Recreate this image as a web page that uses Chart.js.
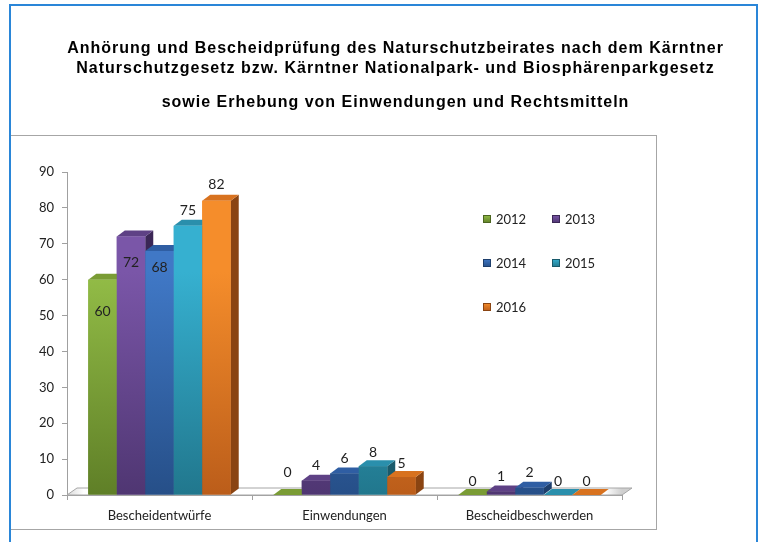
<!DOCTYPE html>
<html><head><meta charset="utf-8">
<script src="https://cdn.jsdelivr.net/npm/chart.js@4.4.1/dist/chart.umd.min.js"></script>
<style>html,body{margin:0;padding:0;background:#fff;}canvas{display:block}</style>
</head><body>
<canvas id="c" width="762" height="542"></canvas>
<script>
// ---- data ----
const categories = ['Bescheidentwürfe', 'Einwendungen', 'Bescheidbeschwerden'];
const years = ['2012', '2013', '2014', '2015', '2016'];
const v2012 = [60, 0, 0];
const v2013 = [72, 4, 1];
const v2014 = [68, 6, 2];
const v2015 = [75, 8, 0];
const v2016 = [82, 5, 0];
const yMin = 0, yMax = 90, yStep = 10;
const titleLines = ['Anhörung und Bescheidprüfung des Naturschutzbeirates nach dem Kärntner',
                    'Naturschutzgesetz bzw. Kärntner Nationalpark- und Biosphärenparkgesetz'];
const subtitleText = 'sowie Erhebung von Einwendungen und Rechtsmitteln';

// ---- styles ----
const palette = [
  {front:['#93bd47','#5f7f27'], side:'#4b6520', top:'#7a9c35'},
  {front:['#7a56a8','#4f3672'], side:'#3b2756', top:'#5e4185'},
  {front:['#4078c6','#264f88'], side:'#1d3e6c', top:'#2f5ea3'},
  {front:['#36b0d0','#21778d'], side:'#195a6b', top:'#2a8fac'},
  {front:['#f58d2b','#bb5d1a'], side:'#8a4412', top:'#d8721f'}
];
const DX = 8, DY = 6;
const FONT = 'Lato, "Open Sans", sans-serif';
const TITLE_FONT = '"Liberation Sans", Arial, sans-serif';

function frontGradient(i){
  return function(ctx){
    const ch = ctx.chart; const a = ch.chartArea;
    if(!a) return palette[i].front[0];
    const g = ch.ctx.createLinearGradient(0, a.top + 100, 0, a.bottom);
    g.addColorStop(0, palette[i].front[0]);
    g.addColorStop(1, palette[i].front[1]);
    return g;
  };
}

const seriesValues = [v2012, v2013, v2014, v2015, v2016];
const datasets = years.map((y, i) => ({
  label: y,
  data: seriesValues[i],
  backgroundColor: frontGradient(i),
  borderWidth: 0,
  categoryPercentage: 0.77,
  barPercentage: 1.0
}));

// letter-spaced title blocks (wraps Chart.js title/subtitle drawing)
const titleSpacingPlugin = {
  id: 'titleSpacing',
  beforeDraw(chart){
    const T = chart.titleBlock && chart.titleBlock.constructor;
    if(!T) return;
    chart.boxes.forEach(b => {
      if(b instanceof T && !b._spaced){
        const orig = b.draw;
        b.draw = function(){
          const c = chart.ctx;
          c.save(); c.letterSpacing = '1px';
          orig.apply(this, arguments);
          c.restore();
        };
        b._spaced = true;
      }
    });
  }
};

const framePlugin = {
  id: 'frame',
  beforeDraw(chart){
    const c = chart.ctx;
    c.save();
    c.fillStyle = '#fff'; c.fillRect(0,0,chart.width,chart.height);
    c.strokeStyle = '#a6a6a6'; c.lineWidth = 1;
    c.strokeRect(10.5, 135.5, 646, 394);
    c.strokeStyle = '#2a86d8'; c.lineWidth = 2;
    c.strokeRect(10, 5, 747, 560);
    c.restore();
  }
};

const floorPlugin = {
  id: 'floor',
  beforeDatasetsDraw(chart){
    const a = chart.chartArea, c = chart.ctx;
    const l = a.left, r = a.right, b = a.bottom;
    c.save();
    const g = c.createLinearGradient(l, 0, r, 0);
    g.addColorStop(0, '#d9d9d9'); g.addColorStop(0.03, '#ffffff');
    g.addColorStop(0.97, '#ffffff'); g.addColorStop(1, '#cfcfcf');
    c.beginPath();
    c.moveTo(l, b); c.lineTo(r, b); c.lineTo(r + 10, b - 7); c.lineTo(l + 10, b - 7); c.closePath();
    c.fillStyle = g; c.fill();
    c.strokeStyle = '#a6a6a6'; c.lineWidth = 1; c.stroke();
    c.restore();
  }
};

const bars3dPlugin = {
  id: 'bars3d',
  afterDatasetsDraw(chart){
    const c = chart.ctx;
    const n = chart.data.labels.length;
    c.save();
    for(let i = 0; i < n; i++){
      chart.data.datasets.forEach((ds, d) => {
        const el = chart.getDatasetMeta(d).data[i];
        const p = el.getProps(['x','y','base','width'], true);
        const xl = p.x - p.width/2, xr = p.x + p.width/2;
        c.beginPath();
        c.moveTo(xr, p.y); c.lineTo(xr + DX, p.y - DY); c.lineTo(xr + DX, p.base - DY); c.lineTo(xr, p.base); c.closePath();
        c.fillStyle = palette[d].side; c.fill();
        c.beginPath();
        c.moveTo(xl, p.y); c.lineTo(xl + DX, p.y - DY); c.lineTo(xr + DX, p.y - DY); c.lineTo(xr, p.y); c.closePath();
        c.fillStyle = palette[d].top; c.fill();
        el.draw(c);
      });
    }
    c.restore();
  }
};

const labelPlugin = {
  id: 'barLabels',
  afterDatasetsDraw(chart, args, opts){
    const c = chart.ctx;
    c.save();
    c.font = '14px ' + FONT; c.fillStyle = '#222';
    c.textAlign = 'center'; c.textBaseline = 'middle';
    chart.data.datasets.forEach((ds, d) => {
      chart.getDatasetMeta(d).data.forEach((el, i) => {
        const s = (opts.shift[i] && opts.shift[i][d] !== undefined) ? opts.shift[i][d] : -15;
        c.fillText(String(ds.data[i]), el.x, el.y + s);
      });
    });
    c.restore();
  }
};

const legendPlugin = {
  id: 'gridLegend',
  afterDraw(chart, args, opts){
    const a = chart.chartArea, c = chart.ctx;
    c.save();
    c.font = '13px ' + FONT; c.fillStyle = '#222';
    c.textBaseline = 'middle'; c.textAlign = 'left';
    chart.data.datasets.forEach((ds, d) => {
      const col = d % 2, row = Math.floor(d / 2);
      const x = a.left + opts.x0 + col * opts.colGap;
      const y = a.top + opts.y0 + row * opts.rowGap;
      const g = c.createLinearGradient(0, y - 4, 0, y + 4);
      g.addColorStop(0, palette[d].front[0]); g.addColorStop(1, palette[d].front[1]);
      c.fillStyle = g; c.fillRect(x, y - 4, 8, 8);
      c.strokeStyle = palette[d].side; c.lineWidth = 1; c.strokeRect(x + 0.5, y - 3.5, 7, 7);
      c.fillStyle = '#222';
      c.fillText(ds.label, x + 13, y + 1);
    });
    c.restore();
  }
};

new Chart(document.getElementById('c'), {
  type: 'bar',
  data: { labels: categories, datasets: datasets },
  options: {
    responsive: false,
    animation: false,
    devicePixelRatio: 1,
    layout: { padding: { left: 29, right: 0, top: 0, bottom: 0 } },
    plugins: {
      legend: { display: false },
      tooltip: { enabled: false },
      title: {
        display: true, text: titleLines, color: '#000',
        font: { family: TITLE_FONT, size: 16, weight: 'bold', lineHeight: 1.25 },
        padding: { top: 39, bottom: 0 }
      },
      subtitle: {
        display: true, text: subtitleText, color: '#000',
        font: { family: TITLE_FONT, size: 16, weight: 'bold', lineHeight: 1.25 },
        padding: { top: 14, bottom: 59 }
      },
      barLabels: { shift: [[32, 26, 17, -15, -16], [-23, -15, -15, -14, -14], [-14, -15, -15, -14, -14]] },
      gridLegend: { x0: 416, y0: 47, colGap: 69, rowGap: 44 }
    },
    scales: {
      x: {
        type: 'category', position: 'bottom', offset: true,
        grid: { display: true, drawOnChartArea: false, tickLength: 5, color: '#a0a0a0', offset: true },
        border: { display: true, color: '#a0a0a0' },
        ticks: { font: { family: FONT, size: 13 }, color: '#222', padding: 8 },
        afterFit(s){ s.height = 47; }
      },
      y: {
        position: 'left', min: yMin, max: yMax,
        ticks: { stepSize: yStep, font: { family: FONT, size: 13 }, color: '#222', padding: 8 },
        grid: { display: true, drawOnChartArea: false, tickLength: 5, color: '#a0a0a0' },
        border: { display: true, color: '#a0a0a0' },
        afterFit(s){ s.width = 38; }
      },
      y2: {
        position: 'right', min: yMin, max: yMax,
        ticks: { display: false }, grid: { display: false }, border: { display: false },
        afterFit(s){ s.width = 140; }
      }
    }
  },
  plugins: [titleSpacingPlugin, framePlugin, floorPlugin, bars3dPlugin, labelPlugin, legendPlugin]
});
</script>
</body></html>
